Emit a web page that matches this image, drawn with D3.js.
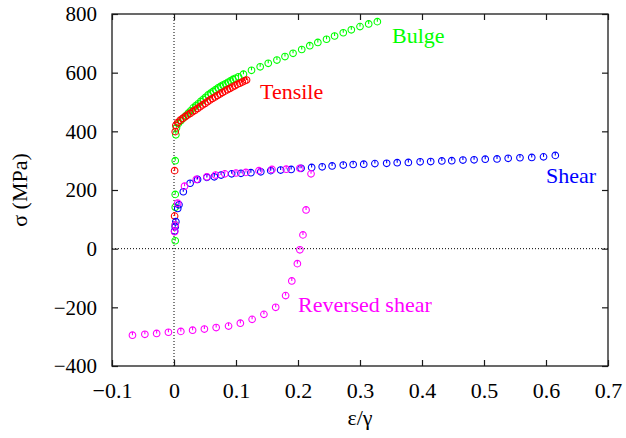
<!DOCTYPE html>
<html><head><meta charset="utf-8">
<script src="https://cdn.jsdelivr.net/npm/d3@7"></script>
<style>
body{margin:0;background:#fff;}
svg{display:block;}
</style></head>
<body>
<svg id="c" width="626" height="438"></svg>
<script>
// ---- data (strain ε/γ, stress σ in MPa) ----
const bulgeX = [0.002,0.002,0.002,0.002,0.002,0.003,0.004,0.007,0.011,0.015,0.019,0.023,0.027,0.031,0.035,0.039,0.043,0.047,0.051,0.055,0.059,0.063,0.067,0.071,0.075,0.079,0.083,0.087,0.091,0.095,0.099,0.104,0.112,0.125,0.139,0.152,0.166,0.179,0.192,0.206,0.219,0.232,0.246,0.259,0.273,0.286,0.300,0.314,0.328];
const bulgeY = [27,81,141,185,300,388,412,427,436,445,453,462,470,480,487,494,502,509,516,524,530,536,542,548,553,558,562,567,572,577,581,586,595,608,620,632,643,655,666,679,692,703,714,725,736,746,757,766,774];

const tensileX = [0.001,0.001,0.002,0.003,0.006,0.010,0.014,0.018,0.022,0.026,0.030,0.034,0.038,0.042,0.046,0.050,0.054,0.058,0.062,0.066,0.070,0.074,0.078,0.082,0.086,0.090,0.094,0.098,0.102,0.106,0.110,0.114,0.117];
const tensileY = [111,266,399,420,430,438,444,450,456,461,467,472,478,484,490,495,501,507,512,517,522,527,532,537,542,546,551,555,560,564,568,572,575];

const shearX = [0.001,0.002,0.003,0.006,0.008,0.015,0.026,0.038,0.053,0.065,0.076,0.093,0.108,0.124,0.140,0.156,0.172,0.189,0.205,0.222,0.239,0.255,0.273,0.289,0.306,0.324,0.343,0.360,0.378,0.397,0.414,0.432,0.448,0.466,0.484,0.502,0.521,0.539,0.558,0.577,0.596,0.615];
const shearY = [60,75,92,137,150,194,223,236,243,245,251,255,257,259,262,266,268,270,274,277,279,282,285,287,288,290,291,293,294,296,297,299,300,302,303,305,306,308,310,311,313,318];

const revX = [0.001,0.002,0.006,0.017,0.036,0.053,0.067,0.082,0.100,0.116,0.137,0.158,0.181,0.203,0.221,0.213,0.208,0.203,0.199,0.190,0.180,0.164,0.145,0.126,0.107,0.088,0.068,0.049,0.030,0.011,-0.009,-0.028,-0.047,-0.067];
const revY = [58,81,155,213,236,245,251,255,258,260,266,270,271,274,255,132,47,-4,-51,-110,-160,-200,-224,-241,-254,-264,-269,-274,-278,-282,-285,-289,-292,-295];

const xTicks = [-0.1,0,0.1,0.2,0.3,0.4,0.5,0.6,0.7];
const xTickLabels = ["\u22120.1","0","0.1","0.2","0.3","0.4","0.5","0.6","0.7"];
const yTicks = [-400,-200,0,200,400,600,800];
const yTickLabels = ["\u2212400","\u2212200","0","200","400","600","800"];

const seriesNames = ["Bulge","Tensile","Shear","Reversed shear"];
const seriesColors = ["#00ff00","#ff0000","#0000ff","#ff00ff"];

// ---- layout ----
const FONT = "Liberation Serif";
const svg = d3.select("#c");
const L = 112, R = 608, T = 14, B = 366;
const x = d3.scaleLinear().domain([-0.1,0.7]).range([L,R]);
const y = d3.scaleLinear().domain([-400,800]).range([B,T]);
const frameColor = "#1a1a1a";

// zero lines
svg.append("line").attr("x1",x(0)).attr("x2",x(0)).attr("y1",T).attr("y2",B)
  .attr("stroke","#000").attr("stroke-width",1).attr("stroke-dasharray","1,2");
svg.append("line").attr("x1",L).attr("x2",R).attr("y1",y(0)).attr("y2",y(0))
  .attr("stroke","#000").attr("stroke-width",1).attr("stroke-dasharray","1,2");

// axes (ticks inward, mirrored)
function styleAxis(g){
  g.select(".domain").remove();
  g.selectAll(".tick line").attr("stroke",frameColor).attr("stroke-width",1.2);
}
const xb = svg.append("g").attr("transform",`translate(0,${B})`)
  .call(d3.axisBottom(x).tickValues(xTicks).tickFormat((d,i)=>xTickLabels[i]).tickSizeInner(-6).tickSizeOuter(0).tickPadding(16));
styleAxis(xb);
xb.selectAll("text").style("font-size","22px").attr("fill","#000");
const xt = svg.append("g").attr("transform",`translate(0,${T})`)
  .call(d3.axisTop(x).tickValues(xTicks).tickFormat("").tickSizeInner(-6).tickSizeOuter(0));
styleAxis(xt);
const yl = svg.append("g").attr("transform",`translate(${L},0)`)
  .call(d3.axisLeft(y).tickValues(yTicks).tickFormat((d,i)=>yTickLabels[i]).tickSizeInner(-6).tickSizeOuter(0).tickPadding(15));
styleAxis(yl);
yl.selectAll("text").style("font-size","21px").attr("fill","#000");
const yr = svg.append("g").attr("transform",`translate(${R},0)`)
  .call(d3.axisRight(y).tickValues(yTicks).tickFormat("").tickSizeInner(-6).tickSizeOuter(0));
styleAxis(yr);

// frame
svg.append("rect").attr("x",L).attr("y",T).attr("width",R-L).attr("height",B-T)
  .attr("fill","none").attr("stroke",frameColor).attr("stroke-width",1.3);

// series
const data = [
  d3.zip(bulgeX,bulgeY), d3.zip(tensileX,tensileY), d3.zip(shearX,shearY), d3.zip(revX,revY)
];
const r = 3.3;
data.forEach((pts,si)=>{
  const g = svg.append("g");
  const m = g.selectAll("g").data(pts).join("g")
    .attr("transform",d=>`translate(${x(d[0])},${y(d[1])})`);
  m.append("circle").attr("r",r).attr("fill","none").attr("stroke",seriesColors[si]).attr("stroke-width",1.1);
  m.append("line").attr("x1",0).attr("x2",0).attr("y1",-r).attr("y2",0)
    .attr("stroke",seriesColors[si]).attr("stroke-width",1.1);
});

// series labels
const labelPos = [[392,43],[260,99],[546,183],[298,312]];
seriesNames.forEach((n,i)=>{
  svg.append("text").attr("x",labelPos[i][0]).attr("y",labelPos[i][1])
    .attr("fill",seriesColors[i]).style("font-size","22px").text(n);
});

// axis titles
svg.append("text").attr("x",(L+R)/2).attr("y",425).attr("text-anchor","middle")
  .style("font-size","22px").attr("fill","#000").text("ε/γ");
svg.append("text").attr("transform",`translate(27,${(T+B)/2}) rotate(-90)`)
  .attr("text-anchor","middle").style("font-size","22px").attr("fill","#000").text("σ (MPa)");

svg.selectAll("text").style("font-family",FONT);
</script>
</body></html>
